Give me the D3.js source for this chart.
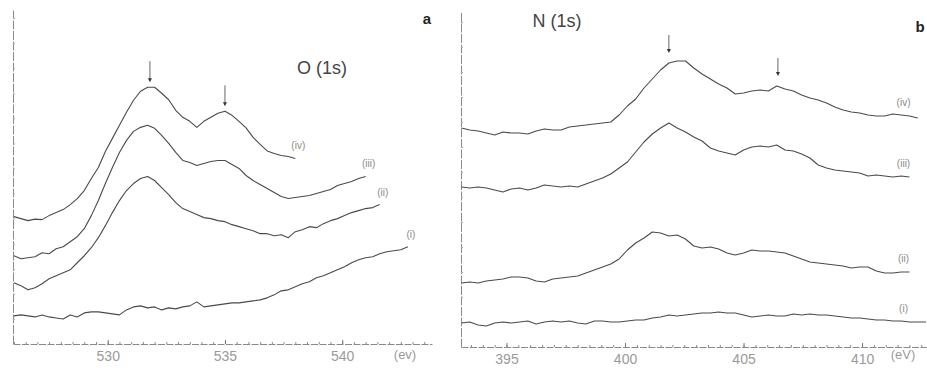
<!DOCTYPE html>
<html>
<head>
<meta charset="utf-8">
<script src="https://cdn.jsdelivr.net/npm/d3@7/dist/d3.min.js"></script>
<style>
  body { margin: 0; background: #fff; }
  svg { display: block; }
</style>
</head>
<body>
<svg id="chart" width="927" height="368"></svg>
<script>
// binding energy grids (eV)
var energyO = [526.0, 526.3, 526.6, 526.9, 527.2, 527.5, 527.8, 528.1, 528.4, 528.7,
  529.0, 529.3, 529.6, 529.9, 530.2, 530.5, 530.8, 531.1, 531.4, 531.7,
  532.0, 532.3, 532.6, 532.9, 533.2, 533.5, 533.8, 534.1, 534.4, 534.7,
  535.0, 535.3, 535.6, 535.9, 536.2, 536.5, 536.8, 537.1, 537.4, 537.7,
  538.0, 538.3, 538.6, 538.9, 539.2, 539.5, 539.8, 540.1, 540.4, 540.7,
  541.0, 541.3, 541.6, 541.9, 542.2, 542.5, 542.8];
var energyN = [393.10, 393.45, 393.80, 394.15, 394.50, 394.85, 395.20, 395.55, 395.90, 396.25,
  396.60, 396.95, 397.30, 397.65, 398.00, 398.35, 398.70, 399.05, 399.40, 399.75,
  400.10, 400.45, 400.80, 401.15, 401.50, 401.85, 402.20, 402.55, 402.90, 403.25,
  403.60, 403.95, 404.30, 404.65, 405.00, 405.35, 405.70, 406.05, 406.40, 406.75,
  407.10, 407.45, 407.80, 408.15, 408.50, 408.85, 409.20, 409.55, 409.90, 410.25,
  410.60, 410.95, 411.30, 411.65, 412.00, 412.35, 412.70];

// O(1s) intensities (arb. units, offset traces)
var oI = [5.6, 5.8, 5.6, 5.4, 5.8, 5.4, 5.2, 5.0, 5.8, 5.4,
  6.2, 6.4, 6.4, 6.2, 6.0, 5.8, 6.8, 7.4, 7.6, 7.2,
  7.4, 6.8, 7.2, 7.0, 7.4, 7.6, 8.4, 7.4, 7.6, 7.8,
  8.0, 8.2, 8.2, 8.4, 8.6, 8.8, 9.2, 9.8, 10.6, 10.8,
  11.4, 12.0, 12.4, 13.2, 13.6, 14.2, 14.8, 15.4, 16.2, 16.8,
  17.2, 17.4, 18.0, 18.4, 18.6, 18.8, 19.4];
var oII = [12.2, 11.6, 10.8, 11.2, 12.0, 13.0, 13.6, 14.2, 14.8, 16.2,
  17.6, 19.2, 21.2, 23.6, 26.2, 28.6, 30.6, 32.0, 33.0, 33.4,
  32.6, 31.2, 29.8, 28.2, 27.0, 26.4, 25.8, 25.2, 25.0, 24.6,
  24.4, 23.8, 23.4, 23.0, 22.6, 22.0, 22.0, 21.6, 21.8, 21.2,
  22.4, 22.8, 23.4, 23.2, 24.0, 24.6, 25.0, 25.6, 26.2, 26.6,
  27.0, 27.2, 27.8];
var oIII = [17.6, 17.0, 17.2, 17.4, 18.2, 18.0, 19.0, 19.4, 20.4, 21.4,
  23.0, 25.6, 28.6, 32.0, 35.2, 38.2, 40.6, 42.4, 43.2, 43.6,
  43.0, 41.6, 40.0, 38.2, 36.6, 36.2, 35.6, 36.0, 36.4, 36.6,
  36.6, 35.8, 35.0, 33.6, 32.6, 31.8, 31.0, 30.2, 29.4, 29.0,
  29.2, 29.4, 29.6, 30.0, 30.4, 30.8, 31.6, 32.0, 32.4, 33.0,
  33.4];
var oIV = [25.4, 25.0, 24.6, 24.9, 24.8, 25.6, 26.2, 26.8, 27.8, 29.0,
  30.6, 33.0, 35.2, 38.4, 41.0, 43.6, 46.2, 48.6, 50.4, 51.2,
  51.2, 50.0, 48.7, 46.6, 45.2, 44.4, 43.2, 44.4, 45.2, 46.0,
  46.4, 45.6, 44.4, 43.1, 41.2, 39.8, 38.5, 38.0, 37.6, 37.4,
  37.0];

// N(1s) intensities
var nI = [4.8, 5.0, 4.4, 4.2, 4.8, 5.0, 4.8, 5.0, 5.2, 4.6,
  5.0, 5.2, 5.0, 5.2, 4.8, 4.6, 5.2, 5.2, 5.0, 5.0,
  5.2, 5.4, 5.4, 5.8, 6.0, 6.4, 6.2, 6.4, 6.6, 6.8,
  6.8, 7.0, 6.8, 6.8, 6.4, 6.0, 6.2, 6.4, 6.2, 6.2,
  6.6, 6.4, 6.6, 6.4, 6.4, 6.2, 6.0, 5.8, 5.8, 5.6,
  5.4, 5.4, 5.2, 5.2, 5.0, 5.0, 5.0];
var nII = [12.8, 13.0, 12.8, 13.2, 13.4, 13.6, 14.0, 14.0, 13.8, 13.2,
  13.0, 13.6, 13.8, 14.0, 14.2, 14.8, 15.4, 16.0, 16.6, 17.6,
  19.4, 20.8, 21.8, 23.0, 22.8, 22.2, 22.4, 21.6, 20.2, 19.8,
  20.0, 19.6, 18.8, 18.4, 18.8, 19.4, 19.2, 19.2, 19.0, 18.8,
  18.2, 17.6, 17.0, 16.8, 16.6, 16.4, 16.2, 15.8, 16.0, 16.0,
  15.2, 14.8, 14.8, 15.0, 15.0];
var nIII = [32.0, 31.8, 32.0, 31.8, 31.4, 31.0, 31.6, 31.8, 31.4, 31.8,
  32.4, 32.2, 32.0, 32.2, 32.0, 32.6, 33.2, 33.8, 34.6, 35.8,
  37.0, 39.0, 41.0, 42.6, 43.8, 44.8, 43.8, 43.0, 42.0, 41.2,
  39.8, 39.2, 38.8, 38.4, 39.4, 40.0, 40.2, 40.0, 40.4, 39.4,
  39.2, 38.6, 37.8, 36.4, 35.8, 35.4, 35.2, 35.0, 34.8, 34.2,
  34.4, 34.2, 34.0, 34.2, 34.0];
var nIV = [43.8, 43.4, 43.2, 42.8, 42.4, 43.0, 42.8, 42.8, 42.6, 43.2,
  43.6, 43.4, 43.4, 44.0, 44.2, 44.4, 44.6, 44.8, 45.0, 46.4,
  48.2, 49.6, 51.8, 53.6, 55.4, 56.8, 57.2, 57.2, 55.8, 54.6,
  53.6, 52.6, 51.8, 50.6, 50.8, 51.2, 51.4, 51.2, 52.2, 51.6,
  51.2, 50.4, 49.8, 49.4, 48.8, 48.0, 47.4, 47.0, 46.8, 46.4,
  46.2, 46.2, 46.6, 46.4, 46.2, 45.8];

var curveNames = ["(i)", "(ii)", "(iii)", "(iv)"];
var ticksO = [530, 535, 540];
var ticksN = [395, 400, 405, 410];
var arrowsO = [531.8, 535.0];
var arrowsN = [401.85, 406.45];

var panels = [
  { energy: energyO, series: [oI, oII, oIII, oIV], ticks: ticksO, arrows: arrowsO,
    title: "O (1s)", letter: "a", unit: "(ev)",
    xDomain: [525.96, 543.83], xRange: [13, 432], yDomain: [0, 66.6], yRange: [344, 10],
    titlePos: [322, 74], letterPos: [427, 24], unitPos: [405, 359],
    arrowGap: 5, arrowLen: 21, labelDx: 3, labelDy: -9 },
  { energy: energyN, series: [nI, nII, nIII, nIV], ticks: ticksN, arrows: arrowsN,
    title: "N (1s)", letter: "b", unit: "(eV)",
    xDomain: [393.08, 412.74], xRange: [461, 927], yDomain: [0, 67], yRange: [347, 12],
    titlePos: [557, 27], letterPos: [920, 32], unitPos: [903, 359],
    arrowGap: 10, arrowLen: 18, labelAt: 411.75, labelDy: -10 }
];

var svg = d3.select("#chart");
var font = "'Liberation Sans', Arial, sans-serif";

panels.forEach(function(p) {
  var x = d3.scaleLinear().domain(p.xDomain).range(p.xRange);
  var y = d3.scaleLinear().domain(p.yDomain).range(p.yRange);
  var g = svg.append("g");

  // minor ticks every 0.5 eV
  var minor = [];
  for (var v = Math.ceil(p.xDomain[0] * 2) / 2; v <= p.xDomain[1]; v += 0.5) minor.push(v);

  g.append("g")
    .attr("transform", "translate(0," + p.yRange[0] + ")")
    .call(d3.axisBottom(x).tickValues(minor).tickSize(-2).tickSizeOuter(0).tickFormat(""))
    .call(function(a) {
      a.select(".domain").attr("stroke", "#8a8a8a").attr("stroke-dasharray", "7,1.5");
      a.selectAll(".tick line").attr("stroke", "#8a8a8a");
    });

  g.append("g")
    .attr("transform", "translate(0," + p.yRange[0] + ")")
    .call(d3.axisBottom(x).tickValues(p.ticks).tickSize(-4).tickSizeOuter(0).tickPadding(7))
    .call(function(a) {
      a.select(".domain").remove();
      a.selectAll(".tick line").attr("stroke", "#777");
      a.selectAll(".tick text").attr("fill", "#9a9a9a").attr("font-size", 14)
        .attr("font-family", font);
    });

  g.append("g")
    .attr("transform", "translate(" + p.xRange[0] + ",0)")
    .call(d3.axisLeft(y).ticks(14).tickSize(-2).tickSizeOuter(0).tickFormat(""))
    .call(function(a) {
      a.select(".domain").attr("stroke", "#8a8a8a").attr("stroke-dasharray", "9,1.5");
      a.selectAll(".tick line").attr("stroke", "#aaa");
    });

  var line = d3.line()
    .x(function(d, i) { return x(p.energy[i]); })
    .y(function(d) { return y(d); });

  p.series.forEach(function(s, k) {
    g.append("path")
      .datum(s)
      .attr("fill", "none")
      .attr("stroke", "#4a4a4a")
      .attr("stroke-width", 1.1)
      .attr("stroke-linejoin", "round")
      .attr("d", line);

    var idx, lx;
    if (p.labelAt) {
      idx = d3.bisectLeft(p.energy, p.labelAt);
      idx = Math.min(idx, s.length - 1);
      lx = x(p.labelAt);
    } else {
      idx = s.length - 1;
      lx = x(p.energy[idx]) + p.labelDx;
    }
    g.append("text")
      .attr("x", lx)
      .attr("y", y(s[idx]) + p.labelDy)
      .attr("text-anchor", "middle")
      .attr("font-family", font)
      .attr("font-size", 10)
      .attr("fill", "#8a8a8a")
      .text(curveNames[k]);
  });

  // peak arrows above trace (iv)
  var top = p.series[3];
  p.arrows.forEach(function(e) {
    var i = d3.minIndex(p.energy, function(v) { return Math.abs(v - e); });
    var tip = y(top[i]) - p.arrowGap;
    var ax = x(e);
    g.append("line")
      .attr("x1", ax).attr("x2", ax)
      .attr("y1", tip - p.arrowLen).attr("y2", tip - 3)
      .attr("stroke", "#666").attr("stroke-width", 1);
    g.append("path")
      .attr("d", "M" + (ax - 2) + "," + (tip - 4) + "L" + (ax + 2) + "," + (tip - 4) + "L" + ax + "," + tip + "Z")
      .attr("fill", "#333");
  });

  g.append("text")
    .attr("x", p.titlePos[0]).attr("y", p.titlePos[1])
    .attr("text-anchor", "middle")
    .attr("font-family", font).attr("font-size", 18)
    .attr("fill", "#444")
    .text(p.title);

  g.append("text")
    .attr("x", p.letterPos[0]).attr("y", p.letterPos[1])
    .attr("text-anchor", "middle")
    .attr("font-family", font).attr("font-size", 15).attr("font-weight", "bold")
    .attr("fill", "#222")
    .text(p.letter);

  g.append("text")
    .attr("x", p.unitPos[0]).attr("y", p.unitPos[1])
    .attr("text-anchor", "middle")
    .attr("font-family", font).attr("font-size", 13)
    .attr("fill", "#9a9a9a")
    .text(p.unit);
});
</script>
</body>
</html>
